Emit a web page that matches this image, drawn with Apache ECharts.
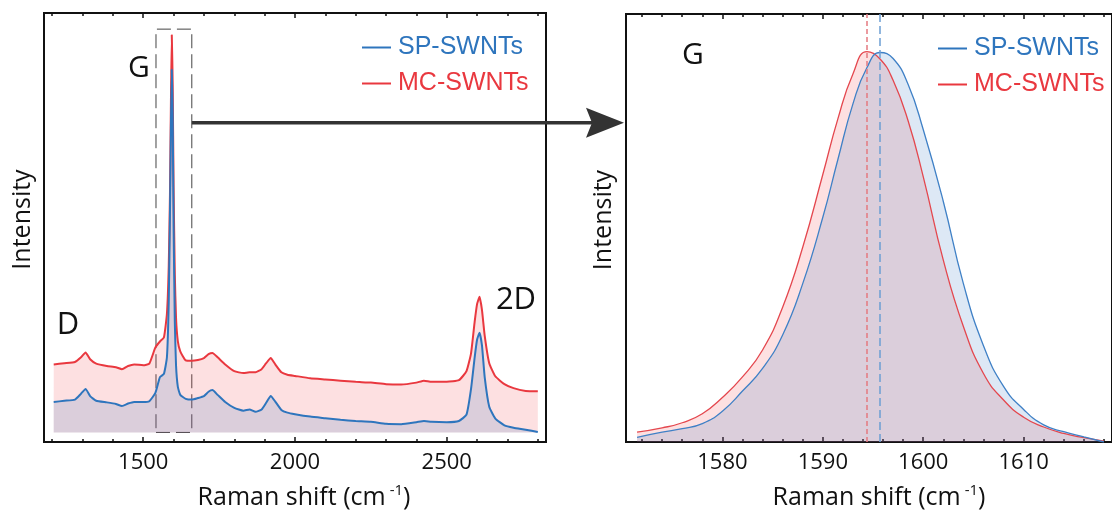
<!DOCTYPE html>
<html>
<head>
<meta charset="utf-8">
<script src="https://cdn.jsdelivr.net/npm/echarts@6/dist/echarts.min.js"></script>
<style>html,body{margin:0;padding:0;background:#fff}#c{width:1112px;height:518px}</style>
</head>
<body>
<div id="c"></div>
<script>
// ---------- data ----------
const seriesNames = ['SP-SWNTs', 'MC-SWNTs'];

// Left panel: full Raman spectra
const leftShift = [1205,1240,1275,1295,1310,1325,1345,1380,1410,1430,1450,1470,1500,1520,1540,1555,1568,1578,1584,1588,1591,1594,1597,1600,1604,1608,1614,1622,1640,1660,1680,1700,1715,1728,1745,1770,1800,1830,1850,1870,1890,1905,1920,1935,1955,1975,2000,2050,2100,2150,2200,2250,2300,2350,2400,2425,2450,2500,2540,2565,2580,2592,2600,2608,2616,2625,2640,2660,2690,2720,2760,2800];
const mcLeft = [0.172,0.175,0.178,0.190,0.202,0.185,0.174,0.168,0.165,0.160,0.168,0.172,0.170,0.174,0.215,0.230,0.240,0.300,0.420,0.600,0.820,1.005,0.880,0.620,0.400,0.290,0.230,0.205,0.182,0.181,0.183,0.188,0.198,0.201,0.190,0.172,0.155,0.150,0.152,0.152,0.160,0.175,0.188,0.172,0.152,0.146,0.143,0.137,0.134,0.131,0.128,0.126,0.122,0.121,0.126,0.131,0.128,0.128,0.132,0.155,0.200,0.280,0.325,0.343,0.310,0.245,0.175,0.142,0.122,0.112,0.105,0.104];
const spLeft = [0.077,0.080,0.083,0.098,0.110,0.092,0.080,0.076,0.072,0.067,0.073,0.077,0.077,0.079,0.100,0.140,0.148,0.190,0.330,0.550,0.760,0.918,0.800,0.520,0.280,0.170,0.115,0.095,0.085,0.083,0.087,0.092,0.103,0.107,0.095,0.077,0.062,0.055,0.058,0.052,0.058,0.075,0.092,0.078,0.057,0.050,0.046,0.040,0.036,0.032,0.029,0.027,0.022,0.021,0.026,0.029,0.027,0.026,0.029,0.045,0.110,0.190,0.235,0.252,0.220,0.140,0.065,0.035,0.018,0.012,0.007,0.001];

// Right panel: G band zoom
const rightShift = [1571.5,1574,1576,1578,1580,1582,1584,1586,1588,1590,1591.5,1593,1594.4,1595.7,1597,1598.5,1600,1602,1604,1606,1608,1610,1612,1614,1616,1618];
const spRight = [0.011,0.023,0.031,0.043,0.072,0.119,0.172,0.250,0.370,0.525,0.660,0.790,0.875,0.910,0.896,0.835,0.730,0.562,0.370,0.225,0.130,0.076,0.040,0.024,0.012,0.000];
const mcRight = [0.023,0.033,0.045,0.066,0.104,0.152,0.215,0.315,0.455,0.625,0.755,0.860,0.912,0.895,0.845,0.750,0.620,0.425,0.270,0.160,0.098,0.058,0.035,0.020,0.010,0.002];

// G peak centres (dashed lines)
const spCenter = 1595.7;
const mcCenter = 1594.4;

// Ticks
const leftMajorTicks = [1500, 2000, 2500];
const leftMinorTicks = [1200,1300,1400,1600,1700,1800,1900,2100,2200,2300,2400,2600,2700,2800];
const rightMajorTicks = [1580, 1590, 1600, 1610];
const rightMinorTicks = [1572,1574,1576,1578,1582,1584,1586,1588,1592,1594,1596,1598,1602,1604,1606,1608,1612,1614,1616,1618];

// Zoom box on the left panel (x range, top level) and arrow level
const boxRange = [1542, 1660];
const boxTop = 1.02;
const arrowLevel = 0.783;

// ---------- styles ----------
const BLUE = '#2e75bd';
const RED = '#e9383f';
const BLUE_FILL = 'rgba(45,110,190,0.16)';
const RED_FILL = 'rgba(240,60,70,0.16)';
const FONT = '"Open Sans", "DejaVu Sans", sans-serif';
const LFONT = '"Liberation Sans", Arial, sans-serif';

const zip = (xs, ys) => xs.map((x, i) => [x, ys[i]]);

function xAxes(gridIndex, min, max, major, minor, nameShift) {
  const base = {
    type: 'value', gridIndex, min, max, splitLine: {show: false},
    axisLine: {show: false, onZero: false}
  };
  return [
    Object.assign({}, base, {
      position: 'bottom',
      axisTick: {show: true, inside: true, length: 5, customValues: major, lineStyle: {color: '#111', width: 1.5}},
      axisLabel: {show: true, customValues: major, margin: 10, fontSize: 22, lineHeight: 22, color: '#111', fontFamily: FONT,
        formatter: v => String(v)},
      name: 'Raman shift (cm{sup|-1})',
      nameLocation: 'middle', nameGap: 41,
      nameTextStyle: {fontSize: 25, lineHeight: 30, color: '#111', fontFamily: FONT, padding: [0, 0, 0, nameShift],
        rich: {sup: {fontSize: 15, lineHeight: 16, verticalAlign: 'top', color: '#111', fontFamily: FONT, padding: [0, 0, 0, 4]}}}
    }),
    Object.assign({}, base, {
      position: 'bottom',
      axisTick: {show: true, inside: true, length: 3, customValues: minor, lineStyle: {color: '#111', width: 1.5}},
      axisLabel: {show: false}
    }),
    Object.assign({}, base, {
      position: 'top',
      axisTick: {show: true, inside: true, length: 5, customValues: major, lineStyle: {color: '#111', width: 1.5}},
      axisLabel: {show: false}
    }),
    Object.assign({}, base, {
      position: 'top',
      axisTick: {show: true, inside: true, length: 3, customValues: minor, lineStyle: {color: '#111', width: 1.5}},
      axisLabel: {show: false}
    })
  ];
}

function yAxis(gridIndex, min, max, gap) {
  return {
    type: 'value', gridIndex, min, max,
    axisLine: {show: false}, axisTick: {show: false}, axisLabel: {show: false}, splitLine: {show: false},
    name: 'Intensity', nameLocation: 'middle', nameGap: gap,
    nameTextStyle: {fontSize: 25, lineHeight: 30, color: '#111', fontFamily: FONT, padding: [0, 0, 0, 16]}
  };
}

function legend(left, top) {
  return {
    left, top, orient: 'vertical', icon: 'rect', itemWidth: 29, itemHeight: 2, itemGap: 7,
    selectedMode: false,
    textStyle: {fontSize: 25, lineHeight: 29, fontFamily: LFONT, padding: [0, 0, 0, 2]},
    data: [
      {name: seriesNames[0], textStyle: {color: BLUE}},
      {name: seriesNames[1], textStyle: {color: RED}}
    ]
  };
}

const chart = echarts.init(document.getElementById('c'), null, {renderer: 'canvas'});

const option = {
  animation: false,
  backgroundColor: '#fff',
  grid: [
    {left: 44, top: 13, width: 502, height: 434, show: true, borderColor: '#111', borderWidth: 2, backgroundColor: 'transparent'},
    {left: 626, top: 14, width: 492, height: 434, show: true, borderColor: '#111', borderWidth: 2, backgroundColor: 'transparent'}
  ],
  xAxis: [].concat(
    xAxes(0, 1173, 2827, leftMajorTicks, leftMinorTicks, 18),
    xAxes(1, 1570.4, 1618.8, rightMajorTicks, rightMinorTicks, 20)
  ),
  yAxis: [yAxis(0, -0.0242, 1.0608, 6), yAxis(1, 0, 1, 7)],
  legend: [legend(357, 28), legend(933, 29)],
  series: [
    {
      name: seriesNames[1], type: 'line', xAxisIndex: 0, yAxisIndex: 0,
      data: zip(leftShift, mcLeft), color: RED, symbol: 'none', smooth: 0.15,
      lineStyle: {width: 2, color: RED}, areaStyle: {color: RED_FILL, opacity: 1},
      markArea: {
        silent: true,
        itemStyle: {color: 'rgba(0,0,0,0)', borderColor: '#444', borderWidth: 1, borderType: [14, 6]},
        data: [[{xAxis: boxRange[0], yAxis: 0}, {xAxis: boxRange[1], yAxis: boxTop}]]
      }
    },
    {
      name: seriesNames[0], type: 'line', xAxisIndex: 0, yAxisIndex: 0,
      data: zip(leftShift, spLeft), color: BLUE, symbol: 'none', smooth: 0.15,
      lineStyle: {width: 2, color: BLUE}, areaStyle: {color: BLUE_FILL, opacity: 1}
    },
    {
      name: seriesNames[1], type: 'line', xAxisIndex: 4, yAxisIndex: 1,
      data: zip(rightShift, mcRight), color: RED, symbol: 'none', smooth: 0.5,
      lineStyle: {width: 1.3, color: '#e4474e'}, areaStyle: {color: RED_FILL, opacity: 1},
      markLine: {
        silent: true, symbol: 'none', label: {show: false},
        lineStyle: {type: [5, 3], color: '#e57a80', width: 1.5},
        data: [{xAxis: mcCenter}]
      }
    },
    {
      name: seriesNames[0], type: 'line', xAxisIndex: 4, yAxisIndex: 1,
      data: zip(rightShift, spRight), color: BLUE, symbol: 'none', smooth: 0.5,
      lineStyle: {width: 1.3, color: '#3f80c6'}, areaStyle: {color: BLUE_FILL, opacity: 1},
      markLine: {
        silent: true, symbol: 'none', label: {show: false},
        lineStyle: {type: [8, 4], color: '#6c9fd4', width: 1.5},
        data: [{xAxis: spCenter}]
      }
    }
  ]
};
chart.setOption(option);

// Arrow from zoom box to right panel, and peak annotations
const start = chart.convertToPixel({xAxisIndex: 0, yAxisIndex: 0}, [boxRange[1], arrowLevel]);
const tipX = chart.convertToPixel({xAxisIndex: 4}, 1570.4) - 2;
const y = start[1];
const annFont = '30px "Open Sans", "DejaVu Sans", sans-serif';
chart.setOption({
  graphic: [
    {type: 'line', silent: true, shape: {x1: start[0], y1: y, x2: tipX - 32, y2: y}, style: {stroke: '#333', lineWidth: 3.5}},
    {type: 'polygon', silent: true, shape: {points: [[tipX - 38, y - 15], [tipX, y], [tipX - 38, y + 15], [tipX - 32, y]]}, style: {fill: '#333'}},
    {type: 'text', silent: true, x: 139, y: 68, style: {text: 'G', font: annFont, fill: '#111', align: 'center', verticalAlign: 'middle'}},
    {type: 'text', silent: true, x: 68, y: 325, style: {text: 'D', font: '31px "Open Sans", sans-serif', fill: '#111', align: 'center', verticalAlign: 'middle'}},
    {type: 'text', silent: true, x: 516, y: 300, style: {text: '2D', font: '31px "Open Sans", sans-serif', fill: '#111', align: 'center', verticalAlign: 'middle'}},
    {type: 'text', silent: true, x: 693, y: 55, style: {text: 'G', font: annFont, fill: '#111', align: 'center', verticalAlign: 'middle'}}
  ]
});
</script>
</body>
</html>
